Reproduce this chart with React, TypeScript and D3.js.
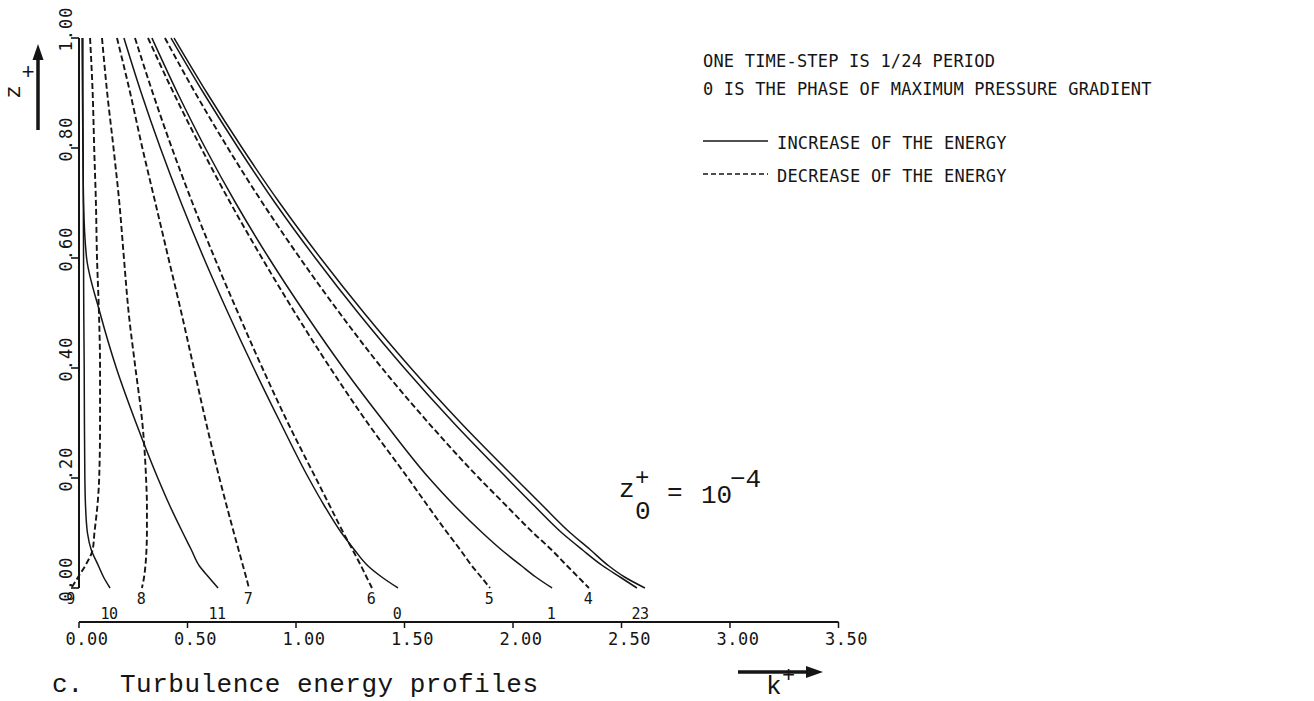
import React from "react";
import * as d3 from "d3";

// Dimensionless height above the bed (z+), shared by every profile
const zLevels = [1.0, 0.9, 0.8, 0.7, 0.6, 0.5, 0.4, 0.3, 0.2, 0.15, 0.1, 0.07, 0.04, 0.02, 0.0];

// Turbulence energy k+ at each z level, one array per time-step (phase)
const kPhase0 = [0.207, 0.287, 0.375, 0.471, 0.575, 0.687, 0.805, 0.929, 1.058, 1.13, 1.21, 1.268, 1.332, 1.395, 1.47];
const kPhase1 = [0.336, 0.454, 0.582, 0.722, 0.875, 1.041, 1.218, 1.41, 1.613, 1.73, 1.86, 1.945, 2.04, 2.105, 2.18];
const kPhase2 = [0.424, 0.574, 0.734, 0.904, 1.089, 1.287, 1.499, 1.727, 1.972, 2.097, 2.226, 2.318, 2.415, 2.493, 2.571];
const kPhase3 = [0.438, 0.59, 0.752, 0.925, 1.113, 1.314, 1.529, 1.76, 2.009, 2.136, 2.265, 2.355, 2.442, 2.514, 2.608];
const kPhase4 = [0.396, 0.536, 0.686, 0.846, 1.018, 1.201, 1.396, 1.611, 1.843, 1.968, 2.094, 2.176, 2.25, 2.3, 2.35];
const kPhase5 = [0.318, 0.436, 0.563, 0.698, 0.843, 0.996, 1.158, 1.33, 1.516, 1.606, 1.698, 1.756, 1.811, 1.853, 1.894];
const kPhase6 = [0.258, 0.34, 0.428, 0.523, 0.625, 0.733, 0.845, 0.963, 1.091, 1.155, 1.219, 1.26, 1.3, 1.325, 1.35];
const kPhase7 = [0.175, 0.236, 0.292, 0.352, 0.412, 0.472, 0.529, 0.586, 0.647, 0.68, 0.714, 0.735, 0.756, 0.77, 0.783];
const kPhase8 = [0.106, 0.13, 0.159, 0.186, 0.207, 0.229, 0.26, 0.292, 0.309, 0.313, 0.313, 0.311, 0.306, 0.3, 0.29];
const kPhase9 = [0.051, 0.063, 0.07, 0.078, 0.083, 0.092, 0.097, 0.097, 0.093, 0.085, 0.071, 0.063, 0.028, -0.004, -0.035];
const kPhase10 = [0.018, 0.018, 0.019, 0.02, 0.021, 0.022, 0.024, 0.025, 0.027, 0.03, 0.039, 0.056, 0.09, 0.113, 0.143];
const kPhase11 = [0.014, 0.016, 0.018, 0.021, 0.035, 0.097, 0.172, 0.263, 0.363, 0.418, 0.479, 0.517, 0.555, 0.597, 0.641];

const phaseProfiles = [kPhase0, kPhase1, kPhase2, kPhase3, kPhase4, kPhase5, kPhase6, kPhase7, kPhase8, kPhase9, kPhase10, kPhase11];

// Phases during which the energy grows (solid); the rest decay (dashed)
const risingPhases = [10, 11, 0, 1, 2, 3];

// Number written under the foot of each profile, and the phases it names
const footLabels = ["9", "10", "8", "11", "7", "6", "0", "5", "1", "4", "23"];
const footPhases = [[9], [10], [8], [11], [7], [6], [0], [5], [1], [4], [2, 3]];

const xTickValues = [0, 0.5, 1.0, 1.5, 2.0, 2.5, 3.0, 3.5];
const xTickLabels = ["0.00", "0.50", "1.00", "1.50", "2.00", "2.50", "3.00", "3.50"];
const yTickValues = [0, 0.2, 0.4, 0.6, 0.8, 1.0];
const yTickLabels = ["0.00", "0.20", "0.40", "0.60", "0.80", "1.00"];

const noteLines = ["ONE TIME-STEP IS 1/24 PERIOD", "0 IS THE PHASE OF MAXIMUM PRESSURE GRADIENT"];
const keyLabels = ["INCREASE OF THE ENERGY", "DECREASE OF THE ENERGY"];

const W = 1314;
const H = 701;
const INK = "#151515";
const PLOTTER = "'DejaVu Sans Mono', monospace";
const TYPE = "'Liberation Mono', 'DejaVu Sans Mono', monospace";

export default function App() {
  const x = d3.scaleLinear().domain([0, 3.5]).range([79, 838.5]);
  const y = d3.scaleLinear().domain([0, 1]).range([588, 38]);
  const xAxisY = 622;

  const line = d3
    .line<[number, number]>()
    .x((d) => x(d[0]))
    .y((d) => y(d[1]))
    .curve(d3.curveMonotoneY);

  const lowerRow = new Set(["10", "11", "0", "1", "23"]);

  return (
    <svg
      width={W}
      height={H}
      viewBox={`0 0 ${W} ${H}`}
      style={{ position: "absolute", left: 0, top: 0, background: "#fff" }}
    >
      <rect x={0} y={0} width={W} height={H} fill="#fff" />

      {/* profiles */}
      {phaseProfiles.map((ks, p) => {
        const pts = ks.map((k, i) => [k, zLevels[i]] as [number, number]);
        const rising = risingPhases.includes(p);
        return (
          <path
            key={p}
            d={line(pts) || ""}
            fill="none"
            stroke={INK}
            strokeWidth={rising ? 1.5 : 1.9}
            strokeDasharray={rising ? undefined : "6,3"}
          />
        );
      })}

      {/* phase numbers at the foot of the profiles */}
      {footLabels.map((t, i) => {
        const ks = footPhases[i].map((p) => phaseProfiles[p][phaseProfiles[p].length - 1]);
        const cx = x(d3.mean(ks) as number) - 1;
        return (
          <text
            key={t}
            x={cx}
            y={lowerRow.has(t) ? 619 : 604}
            textAnchor="middle"
            fontFamily={PLOTTER}
            fontSize={15}
            fill={INK}
            letterSpacing={-0.5}
          >
            {t}
          </text>
        );
      })}

      {/* vertical axis */}
      <line x1={x(0)} x2={x(0)} y1={y(1)} y2={y(0)} stroke={INK} strokeWidth={2} />
      {yTickValues.map((v, i) => (
        <g key={v}>
          <line x1={x(0) - 8} x2={x(0)} y1={y(v)} y2={y(v)} stroke={INK} strokeWidth={1.6} />
          <text
            x={72}
            y={y(v) - 9}
            transform={`rotate(-90, 72, ${y(v) - 9})`}
            textAnchor="middle"
            fontFamily={PLOTTER}
            fontSize={17}
            letterSpacing={1}
            fill={INK}
          >
            {yTickLabels[i]}
          </text>
        </g>
      ))}

      {/* horizontal axis */}
      <line x1={x(0)} x2={x(3.5)} y1={xAxisY} y2={xAxisY} stroke={INK} strokeWidth={2} />
      {xTickValues.map((v, i) => (
        <g key={v}>
          <line x1={x(v)} x2={x(v)} y1={xAxisY} y2={xAxisY + 6} stroke={INK} strokeWidth={1.5} />
          <text
            x={x(v) + 8}
            y={645}
            textAnchor="middle"
            fontFamily={PLOTTER}
            fontSize={17}
            letterSpacing={0.5}
            fill={INK}
          >
            {xTickLabels[i]}
          </text>
        </g>
      ))}

      {/* z+ arrow */}
      <line x1={38} x2={38} y1={130} y2={56} stroke={INK} strokeWidth={3.5} />
      <path d="M38,44 L32.5,60 L43.5,60 Z" fill={INK} />
      <text
        x={20}
        y={92}
        transform="rotate(-90, 20, 92)"
        textAnchor="middle"
        fontFamily={TYPE}
        fontSize={22}
        fill={INK}
      >
        z
      </text>
      <text x={28} y={79} textAnchor="middle" fontFamily={TYPE} fontSize={22} fill={INK}>
        +
      </text>

      {/* k+ arrow */}
      <line x1={738} x2={810} y1={672} y2={672} stroke={INK} strokeWidth={3.5} />
      <path d="M823,672 L806,666 L806,678 Z" fill={INK} />
      <text x={766} y={694} fontFamily={TYPE} fontSize={26} fill={INK}>
        k
      </text>
      <text x={782} y={682} fontFamily={TYPE} fontSize={22} fill={INK}>
        +
      </text>

      {/* caption */}
      <text x={52} y={692} fontFamily={TYPE} fontSize={26} fill={INK}>
        c.
      </text>
      <text x={120} y={692} fontFamily={TYPE} fontSize={26} fill={INK} textLength={418} lengthAdjust="spacing">
        Turbulence energy profiles
      </text>

      {/* roughness height note */}
      <g fontFamily={TYPE} fill={INK}>
        <text x={619} y={497} fontSize={26}>z</text>
        <text x={635} y={485} fontSize={24}>+</text>
        <text x={635} y={519} fontSize={26}>0</text>
        <text x={667} y={500} fontSize={26}>=</text>
        <text x={701} y={503} fontSize={26}>10</text>
        <text x={730} y={487} fontSize={26}>−4</text>
      </g>

      {/* notes and key */}
      <g fontFamily={PLOTTER} fontSize={17} fill={INK} letterSpacing={0.2}>
        <text x={703} y={67}>{noteLines[0]}</text>
        <text x={703} y={95}>{noteLines[1]}</text>
        <text x={777} y={149}>{keyLabels[0]}</text>
        <text x={777} y={182}>{keyLabels[1]}</text>
      </g>
      <line x1={703} x2={768} y1={141} y2={141} stroke={INK} strokeWidth={1.6} />
      <line x1={703} x2={768} y1={174} y2={174} stroke={INK} strokeWidth={1.6} strokeDasharray="5,3" />
    </svg>
  );
}
